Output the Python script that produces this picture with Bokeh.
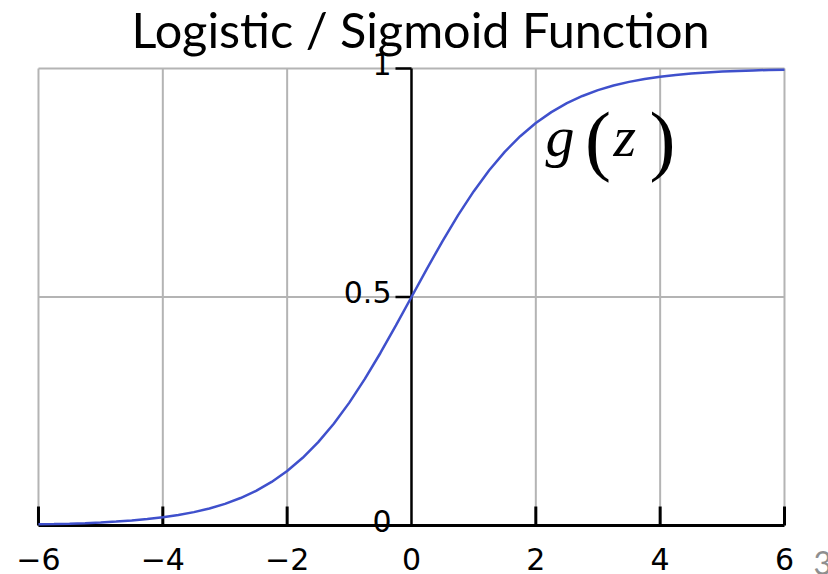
import numpy as np
from bokeh.plotting import figure
from bokeh.models import Range1d, Label, Grid
from bokeh.core.properties import value
from bokeh.embed import file_html
from bokeh.resources import INLINE

# ---- data ----
z = [-6.0, -5.75, -5.5, -5.25, -5.0, -4.75, -4.5, -4.25, -4.0, -3.75, -3.5, -3.25,
     -3.0, -2.75, -2.5, -2.25, -2.0, -1.75, -1.5, -1.25, -1.0, -0.75, -0.5, -0.25,
     0.0, 0.25, 0.5, 0.75, 1.0, 1.25, 1.5, 1.75, 2.0, 2.25, 2.5, 2.75,
     3.0, 3.25, 3.5, 3.75, 4.0, 4.25, 4.5, 4.75, 5.0, 5.25, 5.5, 5.75, 6.0]
g = [0.0025, 0.0032, 0.0041, 0.0052, 0.0067, 0.0086, 0.0110, 0.0141, 0.0180, 0.0230, 0.0293, 0.0373,
     0.0474, 0.0601, 0.0759, 0.0954, 0.1192, 0.1481, 0.1824, 0.2227, 0.2689, 0.3208, 0.3775, 0.4378,
     0.5000, 0.5622, 0.6225, 0.6792, 0.7311, 0.7773, 0.8176, 0.8519, 0.8808, 0.9046, 0.9241, 0.9399,
     0.9526, 0.9627, 0.9707, 0.9770, 0.9820, 0.9859, 0.9890, 0.9914, 0.9933, 0.9948, 0.9959, 0.9968, 0.9975]

x_ticks = [-6, -4, -2, 0, 2, 4, 6]
x_tick_labels = ["\u22126", "\u22124", "\u22122", "0", "2", "4", "6"]
y_ticks = [0, 0.5, 1]
y_tick_labels = ["0", "0.5", "1"]
title_text = "Logistic / Sigmoid Function"
curve_letters = ["g", "z"]
curve_parens = ["(", ")"]
slide_number = "3"

W, H = 828, 574
p = figure(width=W, height=H,
           x_range=Range1d(-6.611, 6.708), y_range=Range1d(-0.1072, 1.1488),
           output_backend="svg", toolbar_location=None,
           x_axis_location=None, y_axis_location=None,
           min_border=0)
p.outline_line_color = None
p.background_fill_color = "white"
p.border_fill_color = "white"
p.center = [r for r in p.center if not isinstance(r, Grid)]

xmin, xmax = x_ticks[0], x_ticks[-1]
ymin, ymax = y_ticks[0], y_ticks[-1]
GRID = "#b4b4b4"

# grid lines inside the plotting box
vx = [t for t in x_ticks if t != 0]
p.segment(x0=vx, y0=[ymin] * len(vx), x1=vx, y1=[ymax] * len(vx),
          line_color=GRID, line_width=2)
hy = [t for t in y_ticks if t != 0]
p.segment(x0=[xmin] * len(hy), y0=hy, x1=[xmax] * len(hy), y1=hy,
          line_color=GRID, line_width=2)

# x axis (through y = 0)
p.segment(x0=[xmin], y0=[ymin], x1=[xmax], y1=[ymin], line_color="black", line_width=3)
p.ray(x=vx, y=[ymin] * len(vx), length=19, length_units="screen", angle=np.pi / 2,
      line_color="black", line_width=3)
p.text(x=x_ticks, y=[ymin] * len(x_ticks), text=x_tick_labels, y_offset=33,
       text_align="center", text_baseline="alphabetic",
       text_font=value("DejaVu Sans"), text_font_size="30px", text_color="black")

# y axis (through x = 0)
p.segment(x0=[0], y0=[ymin], x1=[0], y1=[ymax], line_color="black", line_width=2.5)
p.ray(x=[0] * len(y_ticks), y=y_ticks, length=16, length_units="screen", angle=np.pi,
      line_color="black", line_width=2.5)
p.text(x=[0] * len(y_ticks), y=y_ticks, text=y_tick_labels, x_offset=-20, y_offset=-5,
       text_align="right", text_baseline="alphabetic",
       text_font=value("DejaVu Sans"), text_font_size="30px", text_color="black")

# sigmoid curve
p.line(z, g, line_color="#3f50cc", line_width=2.5)

# g(z) annotation
p.text(x=[2.155, 3.25], y=[0.805, 0.805], text=curve_letters, y_offset=-21,
       text_align="left", text_baseline="alphabetic",
       text_font=value("Liberation Serif"), text_font_style="italic",
       text_font_size="58px", text_color="black")
p.text(x=[2.79, 3.83], y=[0.779, 0.779], text=curve_parens, y_offset=-30,
       text_align="left", text_baseline="alphabetic",
       text_font=value("Liberation Serif"), text_font_style="normal",
       text_font_size="78px", text_color="black")

# title
p.add_layout(Label(x=131, y=H - 45 + 17, x_units="screen", y_units="screen", text=title_text,
                   text_font="Lato", text_font_size="48.6px", text_color="black",
                   text_align="left", text_baseline="alphabetic"))

# slide number
p.add_layout(Label(x=813, y=12, x_units="screen", y_units="screen", text=slide_number,
                   text_font="Lato", text_font_size="32px", text_color="#8f8f8f",
                   text_align="left", text_baseline="alphabetic"))

open("out.html", "w").write(file_html(p, INLINE))
